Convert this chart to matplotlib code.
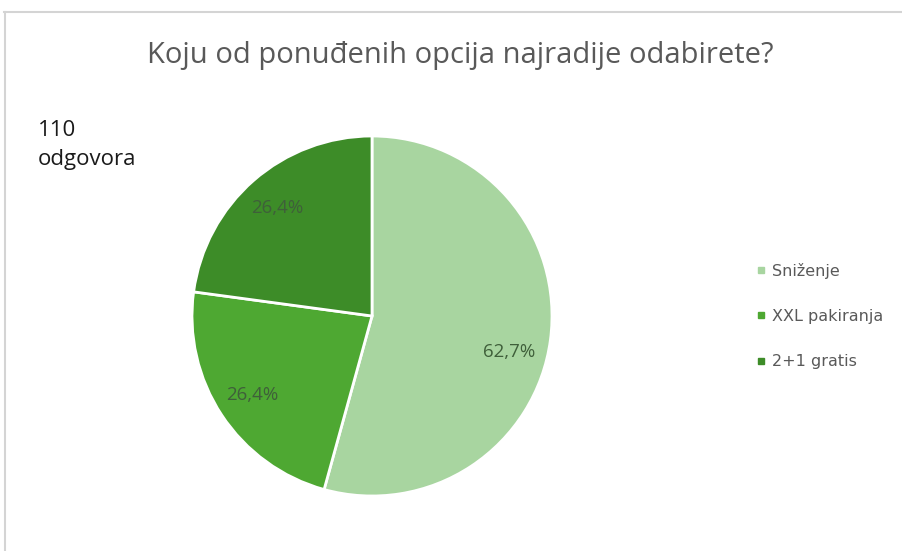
import matplotlib.pyplot as plt
from matplotlib.lines import Line2D

# survey data (multi-choice, so labels sum > 100)
labels = ["Sniženje", "XXL pakiranja", "2+1 gratis"]
values = [62.7, 26.4, 26.4]
value_labels = ["62,7%", "26,4%", "26,4%"]
colors = ["#a8d5a0", "#4ea832", "#3d8c28"]

fig = plt.figure(figsize=(9.02, 5.51), dpi=100)

# light frame at top/left like the screenshot crop
fig.add_artist(Line2D([4/902, 1], [1 - 12/551, 1 - 12/551], color="#d4d4d4", lw=1.5))
fig.add_artist(Line2D([5/902, 5/902], [0, 1 - 12/551], color="#d4d4d4", lw=1.5))

ax = fig.add_axes([192/902, 55/551, 360/902, 360/551])
wedges, texts = ax.pie(values, colors=colors, startangle=90, counterclock=False,
                       labels=value_labels, labeldistance=0.8,
                       wedgeprops=dict(edgecolor="white", linewidth=2))
for t in texts:
    t.set_color("#3f5f3a")
    t.set_fontsize(13.5)
    t.set_family("Open Sans")
    t.set_ha("center")
# first label sits a bit lower in the original
x0, y0 = texts[0].get_position()
texts[0].set_position((x0 - 0.03, y0 - 0.09))
ax.set_xlim(-1, 1)
ax.set_ylim(-1, 1)
ax.set_aspect("equal")

fig.text(460/902, 1 - 55/551, "Koju od ponuđenih opcija najradije odabirete?",
         ha="center", va="center", fontsize=21, color="#595959", family="Open Sans")

fig.text(38/902, 1 - 145/551, "110\nodgovora", ha="left", va="center",
         fontsize=16, color="#1a1a1a", family="Open Sans", linespacing=1.45)

handles = [Line2D([], [], marker="s", ls="", color=c, markersize=5) for c in colors]
fig.legend(handles, labels, loc="center left", bbox_to_anchor=(740/902, 1 - 316/551),
           frameon=False, labelspacing=1.9, handletextpad=0.3, handlelength=0.8,
           prop={"family": "DejaVu Sans", "size": 11.5}, labelcolor="#595959")

fig.savefig("out.png", dpi=100, facecolor="white")
